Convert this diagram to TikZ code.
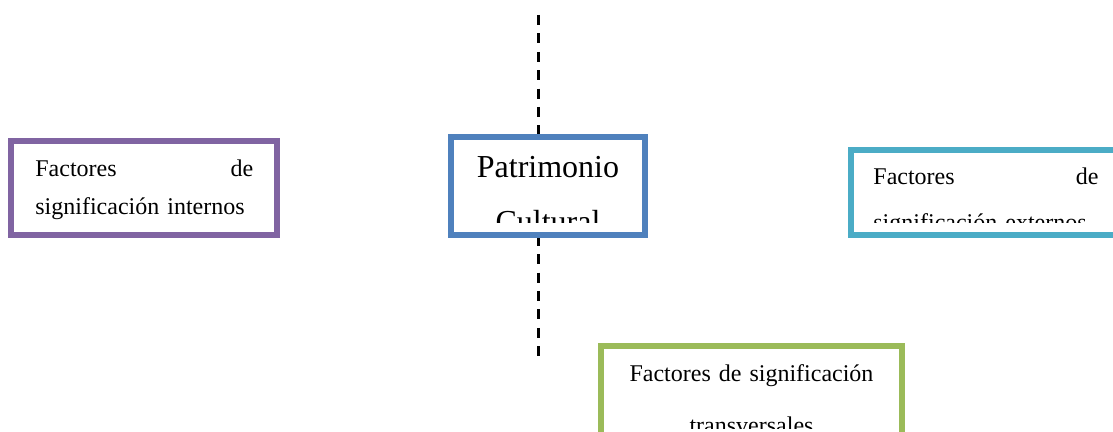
\documentclass[tikz,border=0pt]{standalone}
\usepackage{fontspec}
\setmainfont{Liberation Serif}
\usepackage{tikz}
\usetikzlibrary{positioning}
\definecolor{morado}{HTML}{8064A2}
\definecolor{azul}{HTML}{4F81BD}
\definecolor{turquesa}{HTML}{4BACC6}
\definecolor{verde}{HTML}{9BBB59}

\begin{document}
\begin{tikzpicture}[x=0.5pt, y=-0.5pt,
    caja/.style={draw=#1, line width=3pt, fill=white, inner sep=0pt},
    texto/.style={inner sep=0pt, text width=#1, align=left},
    eje/.style={line width=1.5pt, dash pattern=on 5pt off 4.2pt}]
            \clip (0,0) rectangle (1113,432);                %Rahmen
            \fill [white] (0,0) rectangle (1113,432);
            \coordinate (arriba) at (538,15);
            \coordinate (abajo) at (538,358);
            \draw [eje] (arriba) -- (abajo);                 %Mittellinie
            \node [caja=azul, minimum width=97pt, minimum height=49pt] (patrimonio) at (548,186) {};
            \node [caja=morado, minimum width=133pt, minimum height=47pt] (internos) at (144,188) {};
            \node [caja=turquesa, minimum width=135.5pt, minimum height=42.5pt] (externos) at (986.5,192.5) {};
            \node [caja=verde, minimum width=150.5pt, minimum height=52pt] (transversales) at (751.5,398) {};
            \node [texto=109pt, font=\fontsize{12}{19}\selectfont, anchor=base west] (t-internos) at (35,177) {Factores \hfill de\\ significación internos};
            \begin{scope}
              \clip (454,140) rectangle (642,223);
              \node [texto=93pt, align=center, font=\fontsize{16}{27.5}\selectfont, anchor=base] (t-patrimonio) at (548,178) {Patrimonio\\ Cultural};
            \end{scope}
            \begin{scope}
              \clip (854,150) rectangle (1113,223);
              \node [texto=112.5pt, font=\fontsize{12}{23}\selectfont, anchor=base west] (t-externos) at (873,185) {Factores \hfill de\\ significación externos};
            \end{scope}
            \begin{scope}
              \clip (604,349) rectangle (899,428);
              \node [texto=140pt, align=center, font=\fontsize{12}{25.5}\selectfont, anchor=base] (t-transversales) at (751.5,382) {Factores de significación\\ transversales};
            \end{scope}
\end{tikzpicture}
\end{document}
